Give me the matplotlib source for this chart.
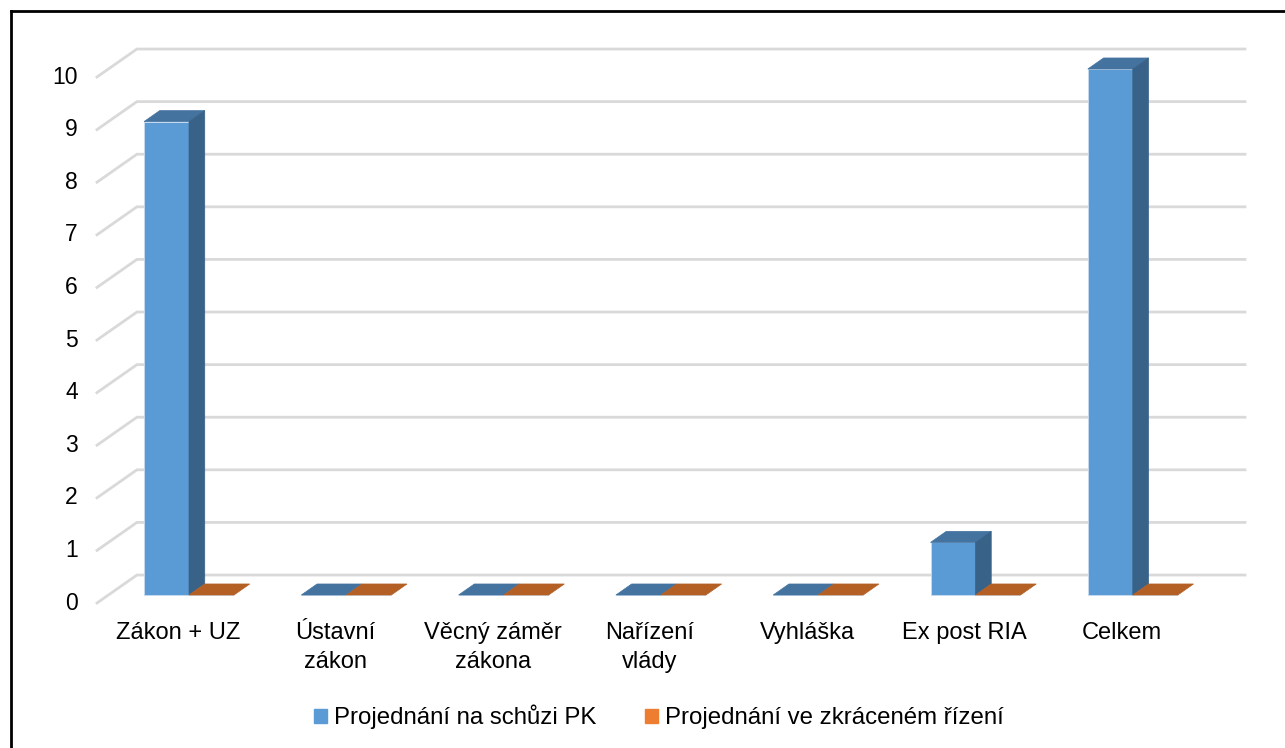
import numpy as np
from matplotlib import pyplot as plt
from matplotlib.patches import Patch, Polygon
from matplotlib.lines import Line2D

plt.rcParams['font.family'] = ['Liberation Sans', 'DejaVu Sans']

categories = ["Zákon + UZ", "Ústavní\nzákon", "Věcný záměr\nzákona", "Nařízení\nvlády",
              "Vyhláška", "Ex post RIA", "Celkem"]
schuze_pk = [9, 0, 0, 0, 0, 1, 10]
zkracene = [0, 0, 0, 0, 0, 0, 0]
series_names = ["Projednání na schůzi PK", "Projednání ve zkráceném řízení"]
y_ticks = list(range(0, 11))

# pseudo 3D look: depth offsets in data units
DX, DY = 0.254, 0.532      # full floor depth
z_front, z_back = 0.286, 0.68  # bar front / back plane
ox, oy = (z_back - z_front) * DX, (z_back - z_front) * DY
w = 0.286

face = {0: ("#5b9bd5", "#44739f", "#386287"),
        1: ("#ed7d31", "#b45f24", "#9c4f1c")}

fig = plt.figure(figsize=(12.85, 7.48), dpi=100)
ax = fig.add_axes([90/1285, 1 - 610/748, (1250-90)/1285, 570/748])
ax.set_xlim((90-189)/157.3, (1250-189)/157.3)
ax.set_ylim(-15/52.6, 555/52.6)
ax.axis('off')

# walls / grid
x_left, x_right = -0.585, 6.713
for v in y_ticks:
    yf = v - z_front * DY
    yb = v + (1 - z_front) * DY
    ax.plot([x_left, x_left + DX, x_right], [yf, yb, yb], color="#d9d9d9", lw=2, zorder=1,
            solid_joinstyle='miter')
    ax.text((78-189)/157.3, yf, str(v), ha='right', va='center', fontsize=16.5, clip_on=False)

x = np.arange(len(categories))
for s, vals in enumerate([schuze_pk, zkracene]):
    left = x - w + s * w
    front, top, side = face[s]
    ax.bar(left, vals, width=w, align='edge', color=front, edgecolor="#c9dcef", lw=0.6, zorder=3)
    for xl, v in zip(left, vals):
        ax.add_patch(Polygon([(xl, v), (xl + w, v), (xl + w + ox, v + oy), (xl + ox, v + oy)],
                             closed=True, facecolor=top, edgecolor=top, lw=0.5, zorder=3))
        if v > 0:
            ax.add_patch(Polygon([(xl + w, 0), (xl + w, v), (xl + w + ox, v + oy), (xl + w + ox, oy)],
                                 closed=True, facecolor=side, edgecolor=side, lw=0.5, zorder=3))

for i, c in enumerate(categories):
    ax.text(i - 0.07, -0.51, c, ha='center', va='top', fontsize=17, linespacing=1.4)

handles = [Patch(color=face[0][0]), Patch(color=face[1][0])]
fig.legend(handles, series_names, loc='center', bbox_to_anchor=(659/1285, 1 - 717/748),
           ncol=2, frameon=False, fontsize=17.3, handlelength=0.55, handleheight=0.55,
           handletextpad=0.3, columnspacing=2.0)

# border (left and top visible)
fig.add_artist(Line2D([11/1285, 11/1285], [0, 1 - 11/748], color='black', lw=2))
fig.add_artist(Line2D([11/1285, 1], [1 - 11/748, 1 - 11/748], color='black', lw=2))

fig.savefig("out.png", dpi=100)
